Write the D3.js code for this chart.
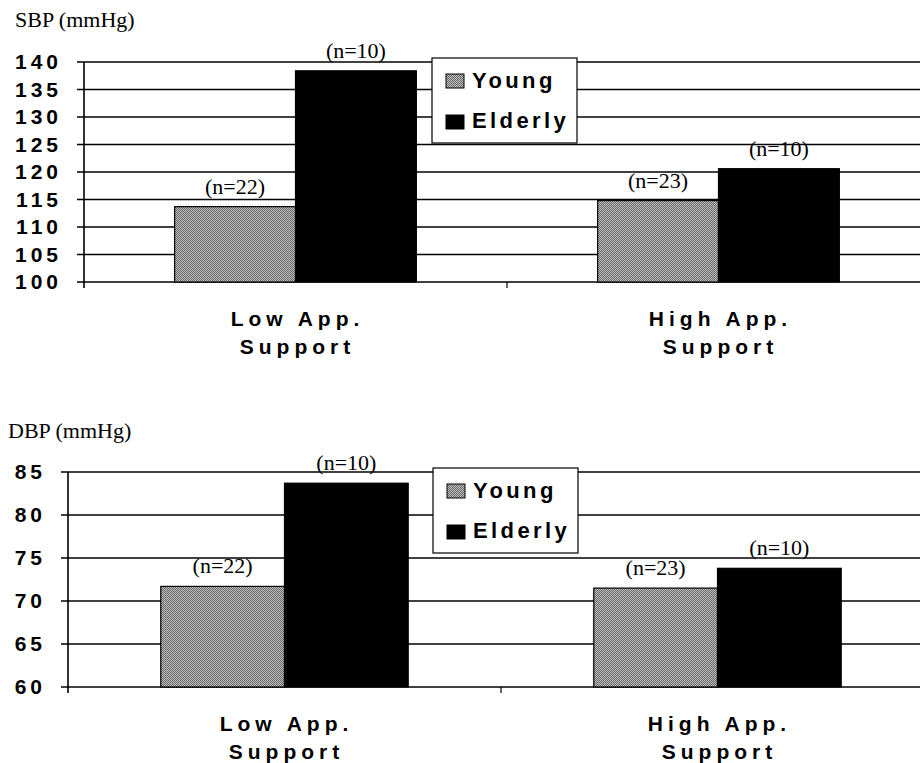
<!DOCTYPE html>
<html>
<head>
<meta charset="utf-8">
<script src="https://cdn.jsdelivr.net/npm/d3@7"></script>
<style>
  body { margin: 0; background: #fff; }
  svg { display: block; }
</style>
</head>
<body>
<script>
// data
var categories = ["Low App. Support", "High App. Support"]
var categoryLines = [["Low App.", "Support"], ["High App.", "Support"]]
var series = ["Young", "Elderly"]

var sbpYoung = [113.7, 114.8]
var sbpElderly = [138.4, 120.6]
var dbpYoung = [71.7, 71.5]
var dbpElderly = [83.7, 73.8]

var nYoung = [22, 23]
var nElderly = [10, 10]

var sbpTicks = [100, 105, 110, 115, 120, 125, 130, 135, 140]
var dbpTicks = [60, 65, 70, 75, 80, 85]

var W = 920, H = 763
var svg = d3.select("body").append("svg").attr("width", W).attr("height", H)

// halftone grey used for the Young bars
var pat = svg.append("defs").append("pattern")
    .attr("id", "dots").attr("patternUnits", "userSpaceOnUse")
    .attr("width", 2).attr("height", 2)
pat.append("rect").attr("width", 2).attr("height", 2).attr("fill", "#bdbdbd")
pat.append("rect").attr("x", 0).attr("y", 0).attr("width", 1).attr("height", 1).attr("fill", "#6a6a6a")
pat.append("rect").attr("x", 1).attr("y", 1).attr("width", 1).attr("height", 1).attr("fill", "#6a6a6a")

var fills = {Young: "url(#dots)", Elderly: "#000"}
var boldFont = "'Liberation Sans', Arial, sans-serif"
var serifFont = "'Liberation Serif', 'Times New Roman', serif"

function panel(opt)
{
    var g = svg.append("g")
    var x0 = d3.scaleBand().domain(categories).range([opt.left, opt.right]).padding(0)
    var x1 = d3.scaleBand().domain(series).range([0, x0.bandwidth()]).paddingInner(0).paddingOuter(0.75)
    var y = d3.scaleLinear().domain(opt.domain).range([opt.bottom, opt.top])

    // title
    g.append("text").attr("x", opt.titleX).attr("y", opt.titleY)
        .attr("font-family", serifFont).attr("font-size", 22)
        .text(opt.title)

    // grid lines + outward ticks
    g.selectAll(".grid").data(opt.ticks).enter().append("line")
        .attr("x1", opt.left - 7).attr("x2", W)
        .attr("y1", function(d){return y(d)}).attr("y2", function(d){return y(d)})
        .attr("stroke", "#000").attr("stroke-width", 1.6)

    // y axis
    var yAxis = d3.axisLeft(y).tickValues(opt.ticks).tickSize(0).tickPadding(0)
    var ya = g.append("g").attr("transform", "translate(" + opt.left + ",0)").call(yAxis)
    ya.select(".domain").remove()
    ya.selectAll("text")
        .attr("x", -(opt.left - opt.labelRight) + 4)
        .attr("font-family", boldFont).attr("font-weight", "bold")
        .attr("font-size", 21).attr("letter-spacing", 4).attr("fill", "#000")
    g.append("line").attr("x1", opt.left).attr("x2", opt.left)
        .attr("y1", opt.top).attr("y2", opt.bottom + 6)
        .attr("stroke", "#000").attr("stroke-width", 1.6)

    // category separator ticks
    g.selectAll(".ct").data(categories.slice(1)).enter().append("line")
        .attr("x1", function(d){return x0(d)}).attr("x2", function(d){return x0(d)})
        .attr("y1", opt.bottom).attr("y2", opt.bottom + 6)
        .attr("stroke", "#000").attr("stroke-width", 1.2)

    // bars
    var rows = categories.map(function(c, i){
        return [
            {cat: c, s: "Young", v: opt.young[i], n: nYoung[i]},
            {cat: c, s: "Elderly", v: opt.elderly[i], n: nElderly[i]}
        ]
    })
    var grp = g.selectAll(".cat").data(rows).enter().append("g")
        .attr("transform", function(d){return "translate(" + x0(d[0].cat) + ",0)"})
    grp.selectAll("rect").data(function(d){return d}).enter().append("rect")
        .attr("x", function(d){return x1(d.s)})
        .attr("width", x1.bandwidth())
        .attr("y", function(d){return y(d.v)})
        .attr("height", function(d){return y(opt.domain[0]) - y(d.v)})
        .attr("fill", function(d){return fills[d.s]})
        .attr("stroke", "#000").attr("stroke-width", 1.2)
    grp.selectAll(".n").data(function(d){return d}).enter().append("text")
        .attr("x", function(d){return x1(d.s) + x1.bandwidth() / 2})
        .attr("y", function(d){return y(d.v) - 13})
        .attr("text-anchor", "middle")
        .attr("font-family", serifFont).attr("font-size", 22)
        .text(function(d){return "(n=" + d.n + ")"})

    // category labels
    categories.forEach(function(c, i){
        var cx = x0(c) + x0.bandwidth() / 2
        categoryLines[i].forEach(function(line, k){
            g.append("text").attr("x", cx + 2).attr("y", opt.bottom + 44 + k * 28)
                .attr("text-anchor", "middle")
                .attr("font-family", boldFont).attr("font-weight", "bold")
                .attr("font-size", 21).attr("letter-spacing", 5)
                .text(line)
        })
    })

    // legend
    var lg = g.append("g").attr("transform", "translate(" + opt.legendX + "," + (opt.top - 4) + ")")
    lg.append("rect").attr("width", 145).attr("height", 85)
        .attr("fill", "#fff").attr("stroke", "#000").attr("stroke-width", 1.2)
    series.forEach(function(s, i){
        lg.append("rect").attr("x", 14).attr("y", 16 + i * 41).attr("width", 18).attr("height", 14)
            .attr("fill", fills[s]).attr("stroke", "#000").attr("stroke-width", 1)
        lg.append("text").attr("x", 40).attr("y", 30 + i * 40)
            .attr("font-family", boldFont).attr("font-weight", "bold")
            .attr("font-size", 22).attr("letter-spacing", 3.4)
            .text(s)
    })
}

panel({
    title: "SBP (mmHg)", titleX: 15, titleY: 27,
    left: 84, right: 930, top: 62, bottom: 282, labelRight: 58,
    domain: [100, 140], ticks: sbpTicks,
    young: sbpYoung, elderly: sbpElderly, legendX: 432
})
panel({
    title: "DBP (mmHg)", titleX: 8, titleY: 438,
    left: 68, right: 934, top: 472, bottom: 687, labelRight: 42,
    domain: [60, 85], ticks: dbpTicks,
    young: dbpYoung, elderly: dbpElderly, legendX: 433
})
</script>
</body>
</html>
